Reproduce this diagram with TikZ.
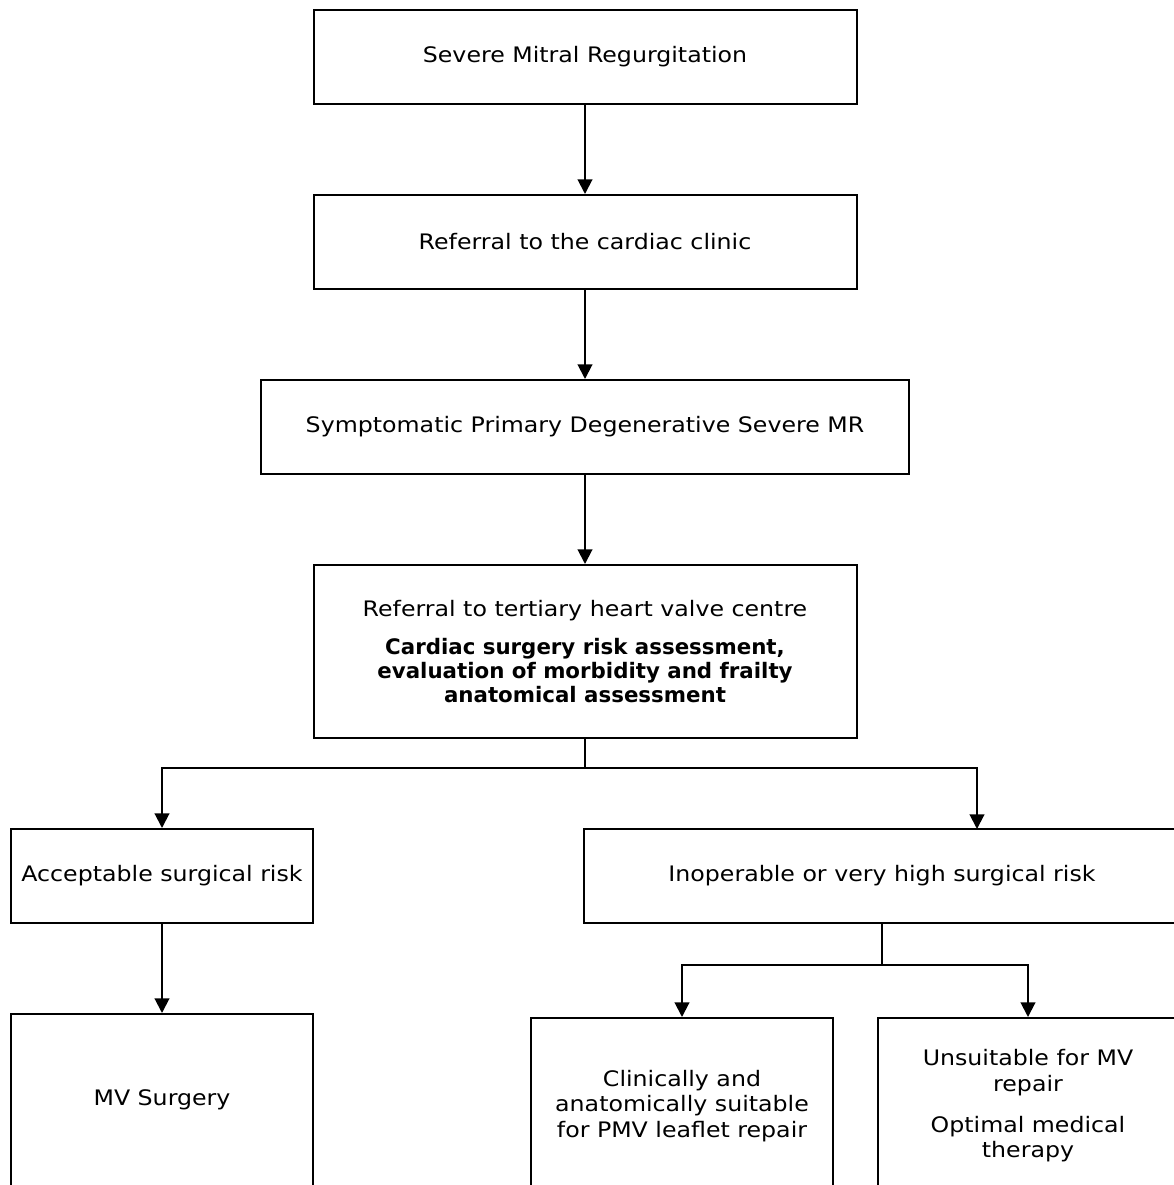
\documentclass[tikz,border=0pt]{standalone}
\usepackage{fontspec}
\setmainfont{DejaVu Sans}[FakeStretch=1.11]
\newfontfamily\heavy{DejaVu Sans Bold}
\newcommand{\hv}[1]{{\heavy #1}}
\usetikzlibrary{arrows.meta}
\tikzset{box/.style={draw,line width=1.5pt,align=center,
                     font=\fontsize{16}{19}\selectfont,inner sep=0pt}}
\tikzset{flow/.style={line width=1.5pt,-{Triangle[length=11pt,width=11pt]}}}

\begin{document}
\begin{tikzpicture}[x=0.75pt,y=-0.75pt]
    \tikzstyle{wide}=[box,minimum width=407.25pt,minimum height=70.5pt]
    \tikzstyle{side}=[box,minimum width=226.5pt,minimum height=70.5pt]
    \tikzstyle{tall}=[box,minimum width=226.5pt,minimum height=132pt]

    \useasboundingbox (0,0) rectangle (1174,1185);
    \fill[white] (0,0) rectangle (1174,1185);
    \clip (0,0) rectangle (1174,1185);

    % Main column
    \node[wide] (mr) at (585,57) {Severe Mitral Regurgitation};
    \node[wide] (clinic) at (585,242) {Referral to the cardiac clinic};
    \node[wide,minimum width=486pt] (sympt) at (585,427)
        {Symptomatic Primary Degenerative Severe MR};
    \node[wide,minimum height=129.75pt] (centre) at (585,651.5)
        {Referral to tertiary heart valve centre\\[10pt]
         \hv{Cardiac surgery risk assessment,}\\[-1pt]
         \hv{evaluation of morbidity and frailty}\\[-1pt]
         \hv{anatomical assessment}};

    % Risk groups
    \node[side] (ok) at (162,876) {Acceptable surgical risk};
    \node[side,minimum width=447pt] (inop) at (882,876)
        {Inoperable or very high surgical risk};

    % Outcomes
    \node[tall,minimum height=129pt] (surg) at (162,1100) {MV Surgery};
    \node[tall] (pmv) at (682,1106)
        {Clinically and\\anatomically suitable\\for PMV leaflet repair};
    \node[tall,minimum width=225pt] (omt) at (1028,1106)
        {Unsuitable for MV\\repair\\[12pt]Optimal medical\\therapy};

    % Connect the main column
    \foreach \source/\dest in {mr/clinic,clinic/sympt,sympt/centre,ok/surg}
        \draw[flow] (\source) -- (\dest);

    % Branch to the risk groups
    \coordinate (split) at (585,768);
    \coordinate (inop-in) at (977,829);
    \draw[line width=1.5pt] (centre) -- (split);
    \draw[flow] (split) -| (ok);
    \draw[flow] (split) -| (inop-in);

    % Branch to the outcomes
    \coordinate (split2) at (882,965);
    \draw[line width=1.5pt] (inop) -- (split2);
    \draw[flow] (split2) -| (pmv);
    \draw[flow] (split2) -| (omt);
\end{tikzpicture}
\end{document}
